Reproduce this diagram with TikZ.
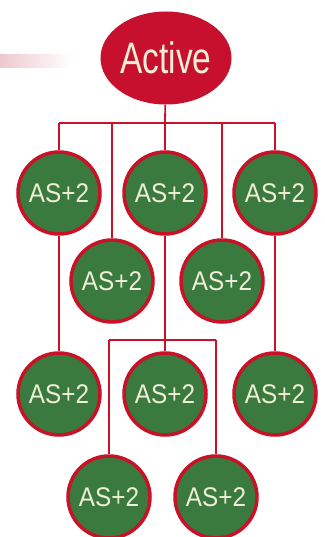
\documentclass[tikz,border=0pt]{standalone}
\usepackage{fontspec}
\setmainfont{Liberation Sans}
\usetikzlibrary{shapes.geometric,backgrounds}
\definecolor{actred}{RGB}{198,16,46}
\definecolor{ringred}{RGB}{200,18,40}
\definecolor{leaf}{RGB}{58,122,62}
\definecolor{cream}{RGB}{240,238,215}
\definecolor{smear}{RGB}{238,200,206}
\tikzset{
  leafnode/.style={circle,draw=ringred,line width=3.5pt,fill=leaf,minimum size=82pt,inner sep=0pt,
    text=cream,font=\fontsize{27}{27}\selectfont},
  link/.style={draw=ringred,line width=1.8pt},
}
\newcommand{\astxt}{\scalebox{0.9}[1]{AS+2}}
\begin{document}
\begin{tikzpicture}[x={(1pt,0)},y={(0,-1pt)}]
\useasboundingbox (0,0) rectangle (324,537);
\node[ellipse,fill=actred,minimum width=131pt,minimum height=93pt,inner sep=0pt,text=cream,
  font=\fontsize{44}{44}\selectfont] (a) at (166,58) {\scalebox{0.76}[1]{Active}};
\node[leafnode] (t1) at (59,193) {\astxt};
\node[leafnode] (t2) at (165,193) {\astxt};
\node[leafnode] (t3) at (275,193) {\astxt};
\node[leafnode] (m1) at (112,281) {\astxt};
\node[leafnode] (m2) at (222,281) {\astxt};
\node[leafnode] (l1) at (59,394) {\astxt};
\node[leafnode] (l2) at (165,394) {\astxt};
\node[leafnode] (l3) at (275,394) {\astxt};
\node[leafnode] (b1) at (109,497) {\astxt};
\node[leafnode] (b2) at (216,497) {\astxt};
\coordinate (j1) at (59,123);
\coordinate (j2) at (112,123);
\coordinate (jc) at (165,123);
\coordinate (j4) at (222,123);
\coordinate (j5) at (275,123);
\coordinate (k1) at (109,340);
\coordinate (k2) at (216,340);
\begin{scope}[on background layer]
\fill[white] (0,0) rectangle (324,537);
\shade[left color=smear,right color=white] (0,55) rectangle (72,68);
\draw[link] (a) -- (jc);
\draw[link] (j1) -- (j5);
\draw[link] (j1) -- (t1);
\draw[link] (j2) -- (m1);
\draw[link] (jc) -- (t2);
\draw[link] (j4) -- (m2);
\draw[link] (j5) -- (t3);
\draw[link] (t1) -- (l1);
\draw[link] (t2) -- (l2);
\draw[link] (t3) -- (l3);
\draw[link] (k1) -- (k2);
\draw[link] (k1) -- (b1);
\draw[link] (k2) -- (b2);
\end{scope}
\end{tikzpicture}
\end{document}
